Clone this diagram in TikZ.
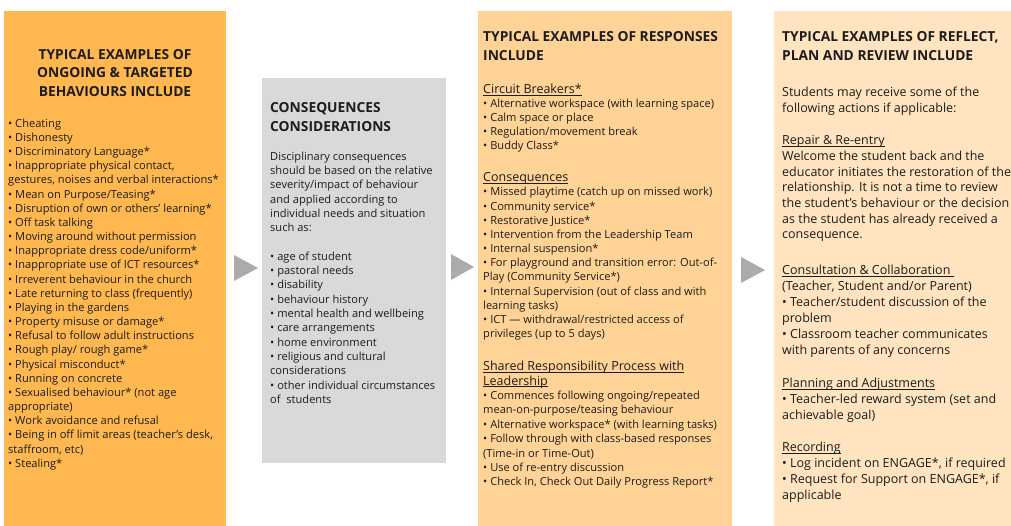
\documentclass[tikz,border=0pt]{standalone}
\usepackage{fontspec}
\setmainfont{Open Sans}
\definecolor{boxA}{HTML}{FFB84F}
\definecolor{boxB}{HTML}{D9D9D9}
\definecolor{boxC}{HTML}{FFD396}
\definecolor{boxD}{HTML}{FFE4BF}
\definecolor{arrowgray}{HTML}{ABABAB}
\definecolor{ink}{HTML}{1C1C1C}
\newcommand{\bodyA}{\fontsize{11.1}{14.17}\selectfont}
\newcommand{\bodyD}{\fontsize{12.5}{15.7}\selectfont}
\newcommand{\headA}{\fontsize{13.8}{18.5}\selectfont\bfseries}
\newcommand{\ul}[1]{\underline{\smash{#1}}}
\newcommand{\subh}[1]{{\fontsize{12.5}{14}\selectfont\underline{\smash{#1}}}}
\begin{document}
\begin{tikzpicture}[x=1pt,y=-1pt,
  panel/.style={draw=none,inner sep=0pt,anchor=north west},
  txt/.style={inner sep=0pt,anchor=north west,align=left,text=ink},
  headc/.style={inner sep=0pt,anchor=north,align=center,text=ink,font=\headA},
  headl/.style={txt,font=\headA},
  tri/.style={fill=arrowgray}]
\useasboundingbox (0,0) rectangle (1011,525);
\fill[white] (0,0) rectangle (1011,525);
% panels
\node[panel,fill=boxA,minimum width=222pt,minimum height=520pt] (p1) at (4,11) {};
\node[panel,fill=boxB,minimum width=184pt,minimum height=385pt] (p2) at (262,78) {};
\node[panel,fill=boxC,minimum width=254pt,minimum height=520pt] (p3) at (478,11) {};
\node[panel,fill=boxD,minimum width=250pt,minimum height=520pt] (p4) at (774,11) {};
% arrows
\fill[tri] (234,255) -- (258,268) -- (234,281) -- cycle;
\fill[tri] (451,254) -- (474,267) -- (451,280) -- cycle;
\fill[tri] (741,257) -- (765,270) -- (741,283) -- cycle;
% column 1
\node[headc] (h1) at (115,46) {\strut TYPICAL EXAMPLES OF\\ONGOING \& TARGETED\\BEHAVIOURS INCLUDE};
\node[txt,font=\bodyA] (b1) at (8,117.1) {\strut • Cheating\\
• Dishonesty\\
• Discriminatory Language*\\
• Inappropriate physical contact,\\
gestures, noises and verbal interactions*\\
• Mean on Purpose/Teasing*\\
• Disruption of own or others’ learning*\\
• Off task talking\\
• Moving around without permission\\
• Inappropriate dress code/uniform*\\
• Inappropriate use of ICT resources*\\
• Irreverent behaviour in the church\\
• Late returning to class (frequently)\\
• Playing in the gardens\\
• Property misuse or damage*\\
• Refusal to follow adult instructions\\
• Rough play/ rough game*\\
• Physical misconduct*\\
• Running on concrete\\
• Sexualised behaviour* (not age\\
appropriate)\\
• Work avoidance and refusal\\
• Being in off limit areas (teacher’s desk,\\
staffroom, etc)\\
• Stealing*};
% column 2
\node[headl] (h2) at (270,99.4) {\strut CONSEQUENCES\\CONSIDERATIONS};
\node[txt,font=\fontsize{11.1}{14.3}\selectfont] (b2) at (270,150) {\strut Disciplinary consequences\\
should be based on the relative\\
severity/impact of behaviour\\
and applied according to\\
individual needs and situation\\
such as:\\[14.3pt]
• age of student\\
• pastoral needs\\
• disability\\
• behaviour history\\
• mental health and wellbeing\\
• care arrangements\\
• home environment\\
• religious and cultural\\
considerations\\
• other individual circumstances\\
of\ \ students};
% column 3
\node[headl] (h3) at (483,28.4) {\strut TYPICAL EXAMPLES OF RESPONSES\\INCLUDE};
\node[txt,font=\fontsize{11.1}{14}\selectfont] (c1) at (483,83.7) {\strut \subh{Circuit Breakers*}\\
• Alternative workspace (with learning space)\\
• Calm space or place\\
• Regulation/movement break\\
• Buddy Class*};
\node[txt,font=\bodyA] (c2) at (483,171.6) {\strut \subh{Consequences}\\
• Missed playtime (catch up on missed work)\\
• Community service*\\
• Restorative Justice*\\
• Intervention from the Leadership Team\\
• Internal suspension*\\
• For playground and transition error: Out-of-\\
Play (Community Service*)\\
• Internal Supervision (out of class and with\\
learning tasks)\\
• ICT — withdrawal/restricted access of\\
privileges (up to 5 days)};
\node[txt,font=\fontsize{11.1}{14.4}\selectfont] (c3) at (483,360.4) {\strut \subh{Shared Responsibility Process with}\\
\subh{Leadership}\\
• Commences following ongoing/repeated\\
mean-on-purpose/teasing behaviour\\
• Alternative workspace* (with learning tasks)\\
• Follow through with class-based responses\\
(Time-in or Time-Out)\\
• Use of re-entry discussion\\
• Check In, Check Out Daily Progress Report*};
% column 4
\node[headl] (h4) at (782,28.4) {\strut TYPICAL EXAMPLES OF REFLECT,\\PLAN AND REVIEW INCLUDE};
\node[txt,font=\bodyD] (d1) at (782,85.5) {\strut Students may receive some of the\\
following actions if applicable:};
\node[txt,font=\bodyD] (d2) at (782,133.5) {\strut \ul{Repair \& Re-entry}\\
Welcome the student back and the\\
educator initiates the restoration of the\\
relationship. It is not a time to review\\
the student’s behaviour or the decision\\
as the student has already received a\\
consequence.};
\node[txt,font=\fontsize{12.5}{16}\selectfont] (d3) at (782,263.3) {\strut \ul{Consultation \& Collaboration\ }\\
(Teacher, Student and/or Parent)\\
• Teacher/student discussion of the\\
problem\\
• Classroom teacher communicates\\
with parents of any concerns};
\node[txt,font=\bodyD] (d4) at (782,376.5) {\strut \ul{Planning and Adjustments}\\
• Teacher-led reward system (set and\\
achievable goal)};
\node[txt,font=\fontsize{12.5}{16}\selectfont] (d5) at (782,440.3) {\strut \ul{Recording}\\
• Log incident on ENGAGE*, if required\\
• Request for Support on ENGAGE*, if\\
applicable};
\end{tikzpicture}
\end{document}
